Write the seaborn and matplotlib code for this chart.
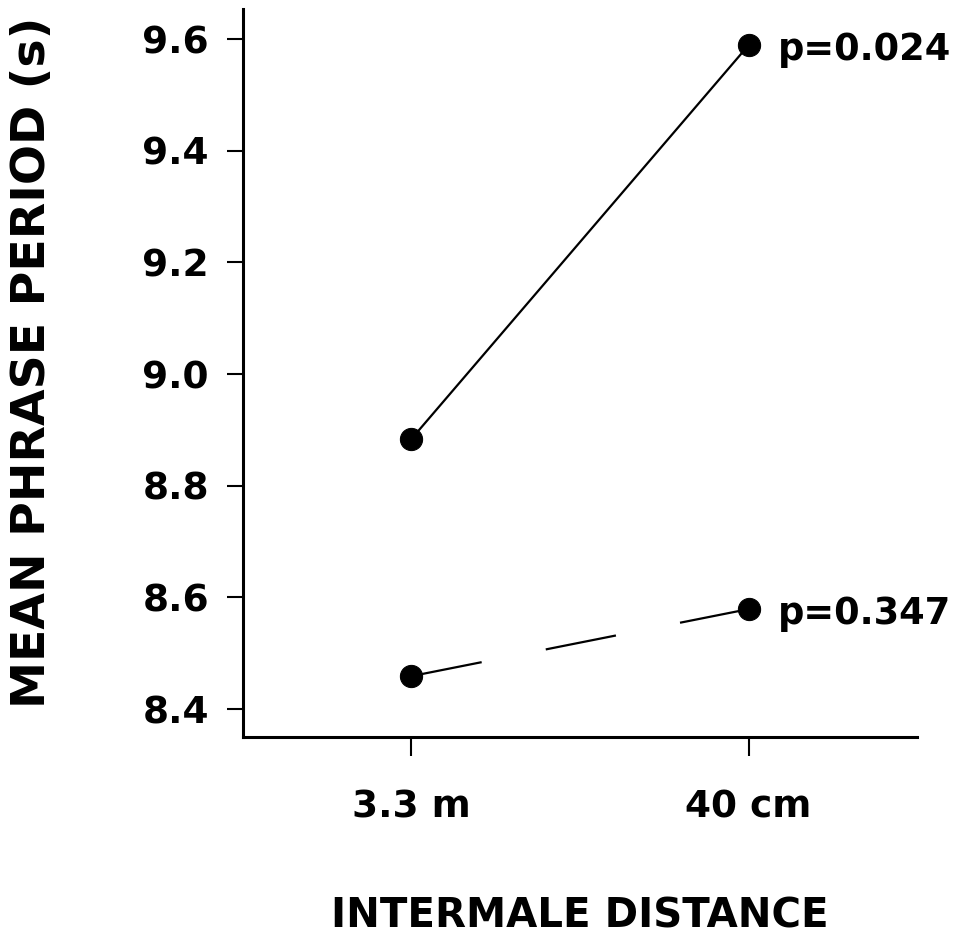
import pandas as pd
import matplotlib.pyplot as plt
import seaborn as sns

# data
distances = ['3.3 m', '40 cm']
period_solid = [8.884, 9.589]
period_dashed = [8.459, 8.579]
p_labels = ['p=0.024', 'p=0.347']
y_ticks = [8.4, 8.6, 8.8, 9.0, 9.2, 9.4, 9.6]


def main():
    sns.set_style('ticks')
    plt.rcParams['font.family'] = ['DejaVu Sans']
    plt.rcParams['font.weight'] = 'bold'
    for key in ['text.color', 'axes.labelcolor', 'xtick.color', 'ytick.color', 'axes.edgecolor']:
        plt.rcParams[key] = 'black'

    df = pd.DataFrame({
        'distance': distances * 2,
        'period': period_solid + period_dashed,
        'group': ['solid'] * 2 + ['dashed'] * 2,
    })

    fig = plt.figure(figsize=(9.77, 9.35), dpi=100)
    ax = fig.add_axes([0.2487, 0.2118, 0.6899, 0.7786])

    sns.lineplot(data=df, x='distance', y='period', style='group',
                 markers={'solid': 'o', 'dashed': 'o'},
                 dashes={'solid': '', 'dashed': (32.2, 29.4)},
                 color='black', linewidth=1.6, markersize=16,
                 markeredgecolor='black', legend=False, ax=ax)

    # p-value labels next to the right-hand points
    for y_end, lab in zip([period_solid[1], period_dashed[1]], p_labels):
        ax.annotate(lab, (1, y_end), xytext=(21, 0), textcoords='offset points',
                    fontsize=26.5, fontweight='bold', va='center_baseline', ha='left',
                    annotation_clip=False)

    ax.set_xlim(-0.5, 1.5)
    ax.set_ylim(8.35, 9.654)
    ax.set_yticks(y_ticks)
    ax.set_yticklabels([f'{v:.1f}' for v in y_ticks], fontweight='bold')
    ax.set_xticks([0, 1])
    ax.set_xticklabels(distances, fontweight='bold')

    sns.despine(ax=ax)
    for side in ['left', 'bottom']:
        ax.spines[side].set_linewidth(2.2)
    ax.tick_params(axis='y', length=11.5, width=1.5, pad=13, labelsize=27)
    ax.tick_params(axis='x', length=14, width=1.5, pad=24, labelsize=27)

    ax.set_xlabel('INTERMALE DISTANCE', fontsize=29, fontweight='bold', labelpad=51)
    ax.set_ylabel('MEAN PHRASE PERIOD (s)', fontsize=34, fontweight='bold')
    ax.yaxis.set_label_coords(-0.279, 0.515)

    plt.savefig('out.png', dpi=100)


if __name__ == '__main__':
    main()
